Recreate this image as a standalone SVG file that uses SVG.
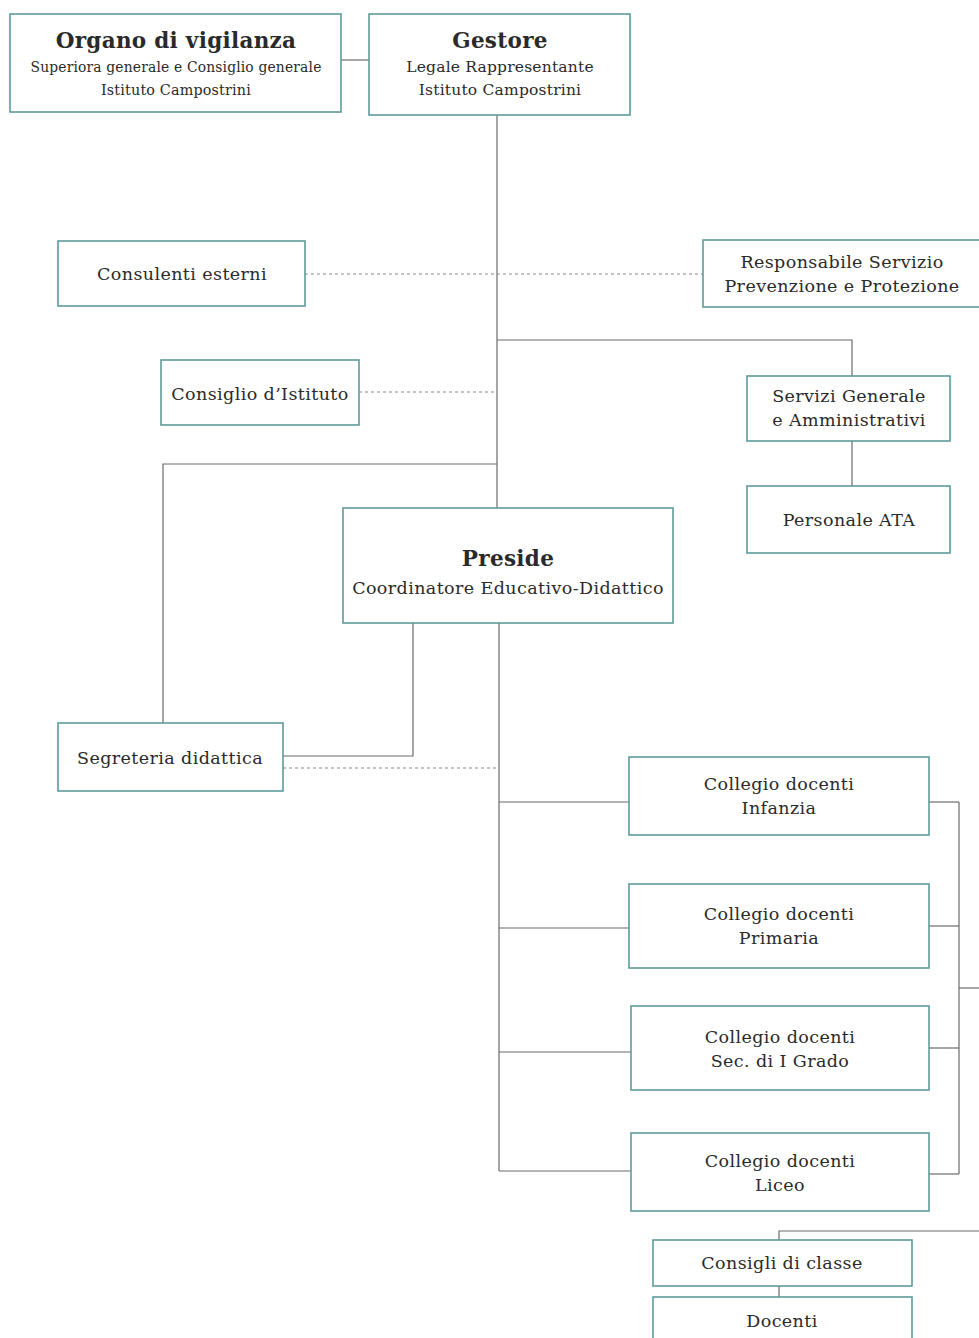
<svg xmlns="http://www.w3.org/2000/svg" width="979" height="1338" viewBox="0 0 979 1338">
<style>
.box{fill:#fff;stroke:#5e9c9c;stroke-width:1.6}
.ln{fill:none;stroke:#6a6a6a;stroke-width:1.2}
.dl{fill:none;stroke:#8a8a8a;stroke-width:1.2;stroke-dasharray:3 3}
text{font-family:"DejaVu Serif","Liberation Serif",serif;fill:#2a2a2a;text-anchor:middle;font-size:17.5px;letter-spacing:0.4px}
.t{font-weight:bold;font-size:21.5px;letter-spacing:0.3px}
.s{font-size:15.5px;letter-spacing:0.2px}
</style>
<rect width="979" height="1338" fill="#fff"/>
<g id="connectors">
<line class="ln" x1="341" y1="60" x2="369" y2="60"/>
<line class="ln" x1="497" y1="115" x2="497" y2="508"/>
<line class="dl" x1="305" y1="274" x2="703" y2="274"/>
<polyline class="ln" points="497,340 852,340 852,376"/>
<line class="ln" x1="852" y1="441" x2="852" y2="486"/>
<line class="dl" x1="359" y1="392" x2="497" y2="392"/>
<polyline class="ln" points="497,464 163,464 163,723"/>
<polyline class="ln" points="413,623 413,756 283,756"/>
<line class="dl" x1="283" y1="768" x2="499" y2="768"/>
<line class="ln" x1="499" y1="623" x2="499" y2="1171"/>
<line class="ln" x1="499" y1="802" x2="629" y2="802"/>
<line class="ln" x1="499" y1="928" x2="629" y2="928"/>
<line class="ln" x1="499" y1="1052" x2="631" y2="1052"/>
<line class="ln" x1="499" y1="1171" x2="631" y2="1171"/>
<line class="ln" x1="929" y1="802" x2="959" y2="802"/>
<line class="ln" x1="929" y1="926" x2="959" y2="926"/>
<line class="ln" x1="929" y1="1048" x2="959" y2="1048"/>
<line class="ln" x1="929" y1="1174" x2="959" y2="1174"/>
<line class="ln" x1="959" y1="802" x2="959" y2="1174"/>
<line class="ln" x1="959" y1="988" x2="979" y2="988"/>
<polyline class="ln" points="979,1231 779,1231 779,1240"/>
<line class="ln" x1="779" y1="1286" x2="779" y2="1297"/>
</g>
<g id="organo">
<rect class="box" x="10" y="14" width="331" height="98"/>
<text class="t" x="176" y="48">Organo di vigilanza</text>
<text class="s" x="176" y="72" textLength="291" lengthAdjust="spacingAndGlyphs">Superiora generale e Consiglio generale</text>
<text class="s" x="176" y="95" textLength="150" lengthAdjust="spacingAndGlyphs">Istituto Campostrini</text>
</g>
<g id="gestore">
<rect class="box" x="369" y="14" width="261" height="101"/>
<text class="t" x="500" y="48">Gestore</text>
<text class="s" x="500" y="72">Legale Rappresentante</text>
<text class="s" x="500" y="95">Istituto Campostrini</text>
</g>
<g id="consulenti">
<rect class="box" x="58" y="241" width="247" height="65"/>
<text x="182" y="280">Consulenti esterni</text>
</g>
<g id="rspp">
<rect class="box" x="703" y="240" width="280" height="67"/>
<text x="842" y="268">Responsabile Servizio</text>
<text x="842" y="292">Prevenzione e Protezione</text>
</g>
<g id="consiglio-istituto">
<rect class="box" x="161" y="360" width="198" height="65"/>
<text x="260" y="400">Consiglio d’Istituto</text>
</g>
<g id="servizi">
<rect class="box" x="747" y="376" width="203" height="65"/>
<text x="849" y="402">Servizi Generale</text>
<text x="849" y="426">e Amministrativi</text>
</g>
<g id="ata">
<rect class="box" x="747" y="486" width="203" height="67"/>
<text x="849" y="526">Personale ATA</text>
</g>
<g id="preside">
<rect class="box" x="343" y="508" width="330" height="115"/>
<text class="t" x="508" y="566">Preside</text>
<text x="508" y="594">Coordinatore Educativo-Didattico</text>
</g>
<g id="segreteria">
<rect class="box" x="58" y="723" width="225" height="68"/>
<text x="170" y="764">Segreteria didattica</text>
</g>
<g id="collegio-infanzia">
<rect class="box" x="629" y="757" width="300" height="78"/>
<text x="779" y="790">Collegio docenti</text>
<text x="779" y="814">Infanzia</text>
</g>
<g id="collegio-primaria">
<rect class="box" x="629" y="884" width="300" height="84"/>
<text x="779" y="920">Collegio docenti</text>
<text x="779" y="944">Primaria</text>
</g>
<g id="collegio-sec">
<rect class="box" x="631" y="1006" width="298" height="84"/>
<text x="780" y="1043">Collegio docenti</text>
<text x="780" y="1067">Sec. di I Grado</text>
</g>
<g id="collegio-liceo">
<rect class="box" x="631" y="1133" width="298" height="78"/>
<text x="780" y="1167">Collegio docenti</text>
<text x="780" y="1191">Liceo</text>
</g>
<g id="consigli-classe">
<rect class="box" x="653" y="1240" width="259" height="46"/>
<text x="782" y="1269">Consigli di classe</text>
</g>
<g id="docenti">
<rect class="box" x="653" y="1297" width="259" height="50"/>
<text x="782" y="1327">Docenti</text>
</g>
</svg>
